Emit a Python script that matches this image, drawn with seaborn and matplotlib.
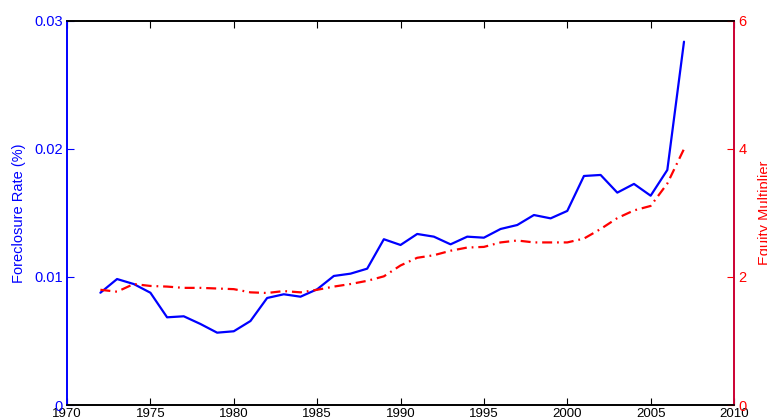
import numpy as np
import pandas as pd
from matplotlib import pyplot as plt
from matplotlib.ticker import FixedLocator, FixedFormatter
import seaborn as sns

sns.set_theme(style="white")
plt.rcParams['font.family'] = ['Liberation Sans', 'DejaVu Sans']

years = list(range(1972, 2008))
foreclosure = [0.00877, 0.00984, 0.00945, 0.00877, 0.00685, 0.00693, 0.00633, 0.00565,
               0.00576, 0.00656, 0.00836, 0.00865, 0.00846, 0.00904, 0.01008, 0.01026,
               0.01065, 0.01295, 0.01250, 0.01336, 0.01315, 0.01255, 0.01315, 0.01307,
               0.01375, 0.01406, 0.01484, 0.01458, 0.01516, 0.01789, 0.01797, 0.01659,
               0.01727, 0.01635, 0.01836, 0.02838]
equity_mult = [1.80, 1.77, 1.89, 1.86, 1.85, 1.83, 1.83, 1.82, 1.81, 1.76, 1.75, 1.78,
               1.76, 1.80, 1.85, 1.89, 1.94, 2.01, 2.18, 2.30, 2.34, 2.41, 2.46, 2.47,
               2.54, 2.57, 2.54, 2.54, 2.54, 2.60, 2.75, 2.92, 3.04, 3.11, 3.46, 4.00]

x_ticks = [1970, 1975, 1980, 1985, 1990, 1995, 2000, 2005, 2010]
left_ticks = [0, 0.01, 0.02, 0.03]
left_labels = ['0', '0.01', '0.02', '0.03']
right_ticks = [0, 2, 4, 6]

df = pd.DataFrame({'year': years, 'fc': foreclosure, 'em': equity_mult})

fig = plt.figure(figsize=(7.67, 4.19), dpi=100)
ax = fig.add_axes([0.0874, 0.0334, 0.8696, 0.9166])
ax2 = ax.twinx()

sns.lineplot(data=df, x='year', y='fc', ax=ax, color='#0000ff', lw=1.6)
sns.lineplot(data=df, x='year', y='em', ax=ax2, color='#ff0000', lw=1.6)
ax2.lines[0].set_dashes([4.5, 2.2, 0.8, 2.2])

ax.set_xlim(1970, 2010)
ax.set_ylim(0, 0.03)
ax2.set_ylim(0, 6)

ax.xaxis.set_major_locator(FixedLocator(x_ticks))
ax.set_xticklabels([str(t) for t in x_ticks])
ax.yaxis.set_major_locator(FixedLocator(left_ticks))
ax.yaxis.set_major_formatter(FixedFormatter(left_labels))
ax2.yaxis.set_major_locator(FixedLocator(right_ticks))

ax.set_xlabel('')
ax.set_ylabel('Foreclosure Rate (%)', color='#0000ff', fontsize=10.5, labelpad=6)
ax2.set_ylabel('Equity Multiplier', color='#ff0000', fontsize=10.5, labelpad=8)

ax.tick_params(axis='x', direction='in', length=5, width=0.8, top=True, bottom=True,
               colors='black', labelsize=9.5, pad=2)
ax.tick_params(axis='y', direction='in', length=5, width=0.8, left=True,
               colors='#0000ff', labelsize=10.5, pad=3)
ax2.tick_params(axis='y', direction='in', length=5, width=0.8, right=True,
                colors='#ff0000', labelsize=10.5, pad=3)
ax2.tick_params(axis='x', top=False)

for a in (ax, ax2):
    a.spines['top'].set_color('black')
    a.spines['bottom'].set_color('black')
    a.spines['left'].set_color('#0000ff')
    a.spines['right'].set_color('#cc0033')
    for s in a.spines.values():
        s.set_linewidth(1.2)
    a.grid(False)

fig.savefig('out.png', dpi=100)
